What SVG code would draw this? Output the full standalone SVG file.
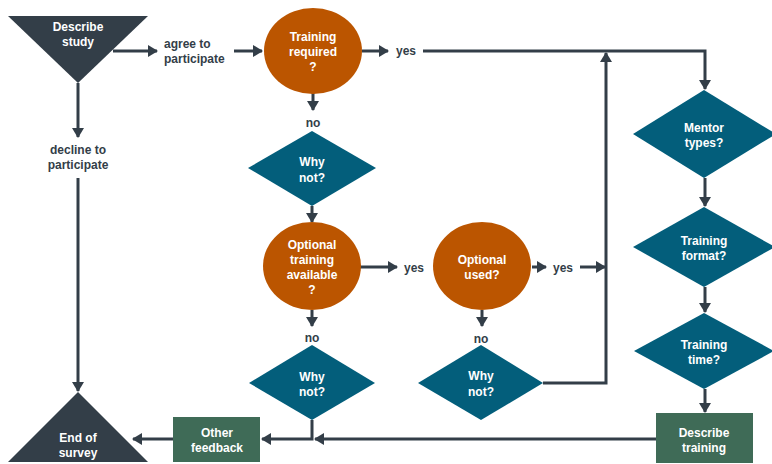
<svg xmlns="http://www.w3.org/2000/svg" width="772" height="464" viewBox="0 0 772 464">
<style>
.bg{fill:#ffffff}
.dark{fill:#333e48}
.orange{fill:#bb5500}
.teal{fill:#035e7b}
.green{fill:#3f6b57}
.wt{fill:#ffffff;font-family:"Liberation Sans",Arial,sans-serif;font-weight:bold;font-size:12px;text-anchor:middle}
.lb{fill:#333e48;font-family:"Liberation Sans",Arial,sans-serif;font-weight:bold;font-size:12px;text-anchor:middle}
.ln{fill:none;stroke:#333e48;stroke-width:3}
</style>
<defs>
<marker id="ah" viewBox="0 0 10 12" refX="9" refY="6" markerWidth="10" markerHeight="12" markerUnits="userSpaceOnUse" orient="auto">
<path d="M0,0 L10,6 L0,12 Z" fill="#333e48"/>
</marker>
</defs>
<rect class="bg" x="0" y="0" width="772" height="464"/>
<g id="connectors">
<path class="ln" marker-end="url(#ah)" d="M113,51 H157"/>
<path class="ln" marker-end="url(#ah)" d="M234,51 H262"/>
<path class="ln" marker-end="url(#ah)" d="M362,51 H388"/>
<path class="ln" marker-end="url(#ah)" d="M423,51 H705 V89"/>
<path class="ln" marker-end="url(#ah)" d="M78,83 V137"/>
<path class="ln" marker-end="url(#ah)" d="M78,178 V391"/>
<path class="ln" marker-end="url(#ah)" d="M313,93 V110"/>
<path class="ln" marker-end="url(#ah)" d="M312,206 V222"/>
<path class="ln" marker-end="url(#ah)" d="M312,310 V326"/>
<path class="ln" marker-end="url(#ah)" d="M482,310 V326"/>
<path class="ln" marker-end="url(#ah)" d="M360,267 H397"/>
<path class="ln" marker-end="url(#ah)" d="M532,267 H546"/>
<path class="ln" marker-end="url(#ah)" d="M580,267 H605"/>
<path class="ln" marker-end="url(#ah)" d="M543,383 H606 V53"/>
<path class="ln" marker-end="url(#ah)" d="M705,178 V206"/>
<path class="ln" marker-end="url(#ah)" d="M705,287 V312"/>
<path class="ln" marker-end="url(#ah)" d="M705,389 V412"/>
<path class="ln" marker-end="url(#ah)" d="M656,439 H315"/>
<path class="ln" marker-end="url(#ah)" d="M312,420 V439 H262"/>
<path class="ln" marker-end="url(#ah)" d="M173,439 H133"/>
</g>
<g id="labels">
<text class="lb" x="164" y="48" text-anchor="start" style="text-anchor:start">agree to</text>
<text class="lb" x="164" y="63" style="text-anchor:start">participate</text>
<text class="lb" x="406" y="55">yes</text>
<text class="lb" x="78" y="154">decline to</text>
<text class="lb" x="78" y="169">participate</text>
<text class="lb" x="313" y="127">no</text>
<text class="lb" x="414" y="272">yes</text>
<text class="lb" x="563" y="272">yes</text>
<text class="lb" x="312" y="342">no</text>
<text class="lb" x="481" y="343">no</text>
</g>
<g id="describe-study">
<polygon class="dark" points="8,16 148,16 78,83"/>
<text class="wt" x="78" y="31">Describe</text>
<text class="wt" x="78" y="46">study</text>
</g>
<g id="training-required">
<ellipse class="orange" cx="313" cy="51" rx="49" ry="43"/>
<text class="wt" x="313" y="41">Training</text>
<text class="wt" x="313" y="56">required</text>
<text class="wt" x="313" y="71">?</text>
</g>
<g id="why-not-1">
<polygon class="teal" points="312,131 376,168 312,206 248,168"/>
<text class="wt" x="312" y="166">Why</text>
<text class="wt" x="312" y="182">not?</text>
</g>
<g id="optional-training">
<ellipse class="orange" cx="312" cy="266" rx="49" ry="44"/>
<text class="wt" x="312" y="249">Optional</text>
<text class="wt" x="312" y="264">training</text>
<text class="wt" x="312" y="279">available</text>
<text class="wt" x="312" y="294">?</text>
</g>
<g id="optional-used">
<ellipse class="orange" cx="482" cy="266" rx="49" ry="44"/>
<text class="wt" x="482" y="264">Optional</text>
<text class="wt" x="482" y="279">used?</text>
</g>
<g id="why-not-2">
<polygon class="teal" points="312,345 375,383 312,420 249,383"/>
<text class="wt" x="312" y="381">Why</text>
<text class="wt" x="312" y="396">not?</text>
</g>
<g id="why-not-3">
<polygon class="teal" points="481,345 543,383 481,420 418,383"/>
<text class="wt" x="481" y="380">Why</text>
<text class="wt" x="481" y="396">not?</text>
</g>
<g id="mentor-types">
<polygon class="teal" points="704,90 776,134 704,178 633,134"/>
<text class="wt" x="704" y="132">Mentor</text>
<text class="wt" x="704" y="147">types?</text>
</g>
<g id="training-format">
<polygon class="teal" points="704,207 775,247 704,287 633,247"/>
<text class="wt" x="704" y="245">Training</text>
<text class="wt" x="704" y="260">format?</text>
</g>
<g id="training-time">
<polygon class="teal" points="704,313 774,351 704,389 634,351"/>
<text class="wt" x="704" y="349">Training</text>
<text class="wt" x="704" y="364">time?</text>
</g>
<g id="describe-training">
<rect class="green" x="656" y="413" width="97" height="50"/>
<text class="wt" x="704" y="437">Describe</text>
<text class="wt" x="704" y="452">training</text>
</g>
<g id="other-feedback">
<rect class="green" x="173" y="417" width="87" height="45"/>
<text class="wt" x="217" y="437">Other</text>
<text class="wt" x="217" y="452">feedback</text>
</g>
<g id="end-of-survey">
<polygon class="dark" points="78,392 148,462 8,462"/>
<text class="wt" x="78" y="442">End of</text>
<text class="wt" x="78" y="457">survey</text>
</g>
</svg>
